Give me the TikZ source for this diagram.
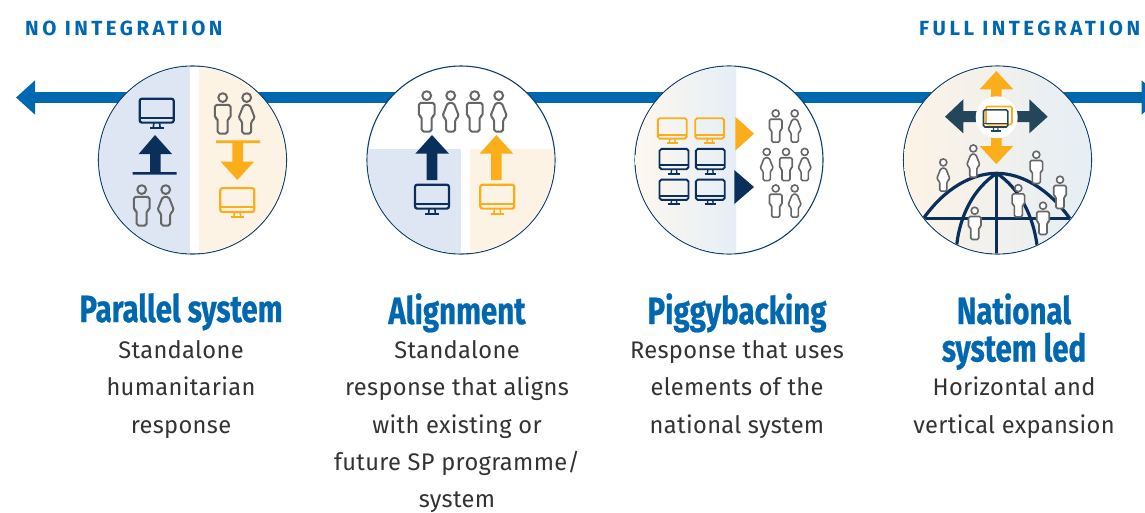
\documentclass[tikz,border=0pt]{standalone}
\usepackage{fontspec}
\usetikzlibrary{arrows.meta}
\setmainfont{Fira Sans}
\newfontfamily\titlef[FakeStretch=0.775,FakeBold=0.6]{Fira Sans}
\newfontfamily\headf[LetterSpace=17]{Fira Sans}
\newfontfamily\bodyf[LetterSpace=1.5,FakeStretch=0.985]{Fira Sans}
\definecolor{barblue}{HTML}{0067B1}
\definecolor{navy}{HTML}{0B2F5B}
\definecolor{ring}{HTML}{0E3E6B}
\definecolor{amber}{HTML}{FBAE1A}
\definecolor{slate}{HTML}{24465A}
\definecolor{pale}{HTML}{DFE6F3}
\definecolor{cream}{HTML}{FDF3E5}
\definecolor{mist}{HTML}{E5EEF5}
\definecolor{pgray}{HTML}{666666}
\definecolor{ink}{HTML}{333333}
\tikzset{
  circ/.style={circle,draw=ring,line width=1.1pt,fill=white,minimum size=188pt,inner sep=0pt},
  head/.style={font=\headf\bfseries\fontsize{20.5}{24}\selectfont,text=barblue,anchor=base west,inner sep=0pt},
  ttl/.style={font=\titlef\bfseries\fontsize{38}{37.5}\selectfont,text=barblue,align=center,anchor=north,inner sep=0pt},
  body/.style={font=\bodyf\fontsize{24}{37.4}\selectfont,text=ink,align=center,anchor=north,inner sep=0pt},
  person/.style={draw=pgray,line width=#1*2pt,rounded corners=#1*1.8pt,line join=round}
}
\newcommand\titlestrut{\rule{0pt}{26pt}}
\newcommand\bodystrut{\rule{0pt}{20pt}}
% monitor: x, y, scale, colour
\newcommand\mon[4]{\begin{scope}[shift={(#1,#2)},scale=#3,draw=#4,line width=#3*2.2pt]
  \draw[rounded corners=#3*2.2pt] (-17,-14.6) rectangle (17,9.3);
  \draw (-17,4.6) -- (17,4.6);
  \draw[line width=#3*1.6pt] (-2.8,9.3) -- (-3.4,14.2) (2.8,9.3) -- (3.4,14.2);
  \draw (-6.8,14.6) -- (6.8,14.6);
\end{scope}}
% persons: [fill], x, y, scale
\newcommand\pM[4][none]{\begin{scope}[shift={(#2,#3)},scale=#4]
  \draw[person=#4,fill=#1] (0,-15.7) circle (4.4);
  \draw[person=#4,fill=#1] (-7.8,-8.5) -- (7.8,-8.5) -- (7.8,5) -- (5,5) -- (5,20.2) -- (-5,20.2) -- (-5,5) -- (-7.8,5) -- cycle;
\end{scope}}
\newcommand\pF[4][none]{\begin{scope}[shift={(#2,#3)},scale=#4]
  \draw[person=#4,fill=#1] (0,-15.7) circle (4.4);
  \draw[person=#4,fill=#1] (-3,-8.5) -- (3,-8.5) -- (8.3,5) -- (4.5,8) -- (4.5,20.2) -- (-4.5,20.2) -- (-4.5,8) -- (-8.3,5) -- cycle;
\end{scope}}
\begin{document}
\begin{tikzpicture}[x=1pt,y=-1pt]
\useasboundingbox (0,0) rectangle (1145,512);
\clip (0,0) rectangle (1145,512);
\fill[white] (0,0) rectangle (1145,512);
\node[head] (nolabel) at (25,35) {NO INTEGRATION};
\node[head] (fulllabel) at (919,35) {FULL INTEGRATION};
\coordinate (leftend) at (16,97.5);
\coordinate (rightend) at (1160.7,97.5);
\draw[barblue,line width=10.5pt,{Triangle[length=19pt,width=33pt]}-{Triangle[length=19pt,width=33pt]}] (leftend) -- (rightend);
\node[circ] (c1) at (192.5,160) {};
\node[circ] (c2) at (461,160) {};
\node[circ] (c3) at (729,160) {};
\node[circ] (c4) at (997.5,160) {};
% circle 1
\begin{scope}
  \clip (c1.center) circle (93.4);
  \fill[pale] (95,60) rectangle (190,260);
  \fill[cream] (199,60) rectangle (290,260);
\end{scope}
\mon{156.7}{113.3}{1}{navy}
\fill[navy] (155,135) -- (172,154) -- (160.7,154) -- (160.7,172) -- (176.7,172) -- (176.7,174.6) -- (132.7,174.6) -- (132.7,172) -- (150,172) -- (150,154) -- (138.7,154) -- cycle;
\pM{141.7}{205.3}{1}\pF{165.7}{205.3}{1}
\pM{222.7}{113.3}{1}\pF{246.7}{113.3}{1}
\fill[amber] (216,140.4) -- (260,140.4) -- (260,143) -- (243,143) -- (243,161.7) -- (254,161.7) -- (237.3,180) -- (220.7,161.7) -- (232.3,161.7) -- (232.3,143) -- (216,143) -- cycle;
\mon{237.3}{202.7}{1}{amber}
% circle 2
\begin{scope}
  \clip (c2.center) circle (93.4);
  \fill[pale] (360,149) rectangle (461,260);
  \fill[cream] (470,149) rectangle (560,260);
\end{scope}
\pM{426.7}{111.3}{1}\pF{450.7}{111.3}{1}\pM{474.7}{111.3}{1}\pF{498.7}{111.3}{1}
\fill[navy] (432,135) -- (449,153.7) -- (437.3,153.7) -- (437.3,180) -- (426.7,180) -- (426.7,153.7) -- (415.3,153.7) -- cycle;
\fill[amber] (496.3,135) -- (513.3,153.7) -- (501.6,153.7) -- (501.6,180) -- (491,180) -- (491,153.7) -- (479.6,153.7) -- cycle;
\mon{432}{199.3}{1}{navy}
\mon{497.3}{199.3}{1}{amber}
% circle 3
\begin{scope}
  \clip (c3.center) circle (93.4);
  \shade[left color=cream!60!white,right color=mist] (635,60) rectangle (736,260);
\end{scope}
\mon{672.3}{130.7}{.85}{amber}\mon{709.7}{130.7}{.85}{amber}
\mon{674}{161.3}{.85}{navy}\mon{710.3}{161.3}{.85}{navy}
\mon{674}{192}{.85}{navy}\mon{710.3}{192}{.85}{navy}
\fill[amber] (735.3,116.7) -- (754,133.7) -- (735.3,150.7) -- cycle;
\fill[navy] (734.3,170) -- (754,187) -- (734.3,204) -- cycle;
\pM{775.7}{126}{.8}\pF{794.7}{126}{.8}
\pF{766.7}{164.5}{.8}\pM{786}{164.5}{.8}\pF{804.7}{164.5}{.8}
\pM{775.7}{201}{.8}\pF{794.7}{201}{.8}
% circle 4
\begin{scope}
  \clip (c4.center) circle (93.4);
  \shade[left color=cream,right color=mist] (903,60) rectangle (1092,260);
  \draw[navy,line width=3.2pt] (923.3,218.7) -- (1070,218.7);
  \draw[navy,line width=3.2pt] (923.3,218.7) .. controls (945,188) and (972,173.3) .. (996.7,173.3) .. controls (1021,173.3) and (1048,188) .. (1070,218.7);
  \draw[navy,line width=3.2pt] (996.7,173.3) -- (996.7,256);
  \draw[navy,line width=3.2pt] (996.7,173.3) .. controls (974,188) and (960,215) .. (956.7,245);
  \draw[navy,line width=3.2pt] (996.7,173.3) .. controls (1019,188) and (1033,215) .. (1037,245);
\end{scope}
\fill[amber] (996.3,71) -- (1013.3,89.3) -- (1001.7,89.3) -- (1001.7,100) -- (991,100) -- (991,89.3) -- (979.7,89.3) -- cycle;
\fill[amber] (996.3,164) -- (1013.3,146) -- (1001.7,146) -- (1001.7,136) -- (991,136) -- (991,146) -- (979.7,146) -- cycle;
\fill[slate] (945,116.7) -- (963.3,99.3) -- (963.3,111) -- (977,111) -- (977,122) -- (963.3,122) -- (963.3,133.3) -- cycle;
\fill[slate] (1047.7,116.7) -- (1029.3,99.3) -- (1029.3,111) -- (1016,111) -- (1016,122) -- (1029.3,122) -- (1029.3,133.3) -- cycle;
\fill[white] (996.7,117.3) circle (21);
\draw[amber,line width=1.7pt,rounded corners=2pt] (986,106.5) rectangle (1012,124.5);
\mon{995.7}{120.3}{.72}{slate}
\pF[white]{943.3}{175}{.8}\pF[white]{973.3}{161}{.8}
\pM[white]{1036.3}{167.3}{.8}\pM[white]{1060}{192.3}{.8}
\pM[white]{1018.3}{200.7}{.8}\pM[white]{1043}{218.3}{.8}
\pM[white]{974.7}{223.3}{.8}
% texts
\node[ttl] (t1) at (181,293) {\titlestrut Parallel system};
\node[ttl] (t2) at (457,293) {\titlestrut Alignment};
\node[ttl] (t3) at (737,293) {\titlestrut Piggybacking};
\node[ttl] (t4) at (1014,293) {\titlestrut National\\system led};
\node[body] (b1) at (181,338) {\bodystrut Standalone\\humanitarian\\response};
\node[body] (b2) at (457,338) {\bodystrut Standalone\\response that aligns\\with existing or\\future SP programme/\\system};
\node[body] (b3) at (737,338) {\bodystrut Response that uses\\elements of the\\national system};
\node[body] (b4) at (1014,375.5) {\bodystrut Horizontal and\\vertical expansion};
\end{tikzpicture}
\end{document}
